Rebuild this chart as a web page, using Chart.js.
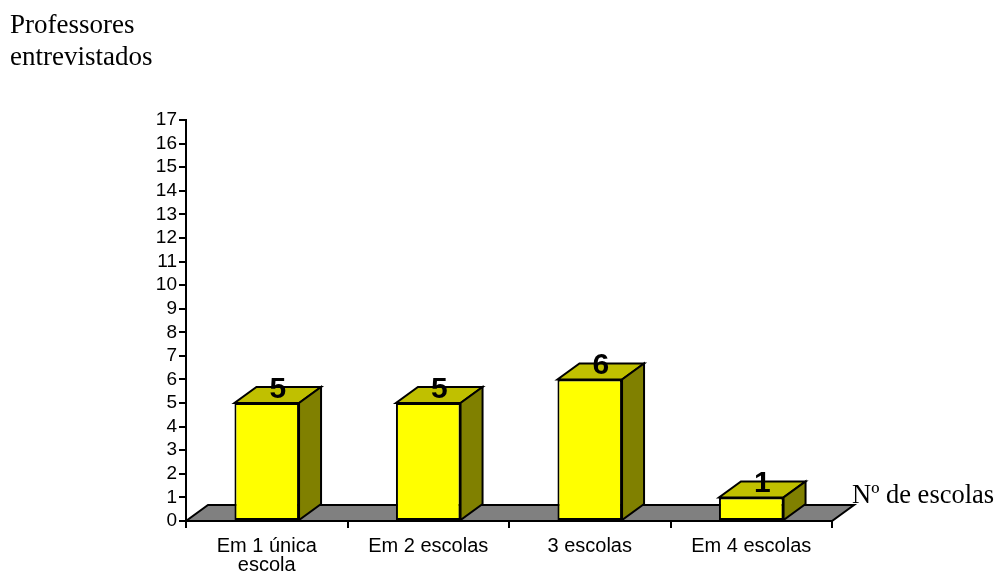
<!DOCTYPE html>
<html>
<head>
<meta charset="utf-8">
<script src="https://cdn.jsdelivr.net/npm/chart.js@4.4.1/dist/chart.umd.min.js"></script>
<style>
  html, body { margin: 0; padding: 0; background: #fff; }
  #wrap { position: relative; width: 998px; height: 581px; }
</style>
</head>
<body>
<div id="wrap"><canvas id="c" width="998" height="581"></canvas></div>
<script>
// Categories (number of schools each teacher works in)
const categories = [["Em 1 única", "escola"], "Em 2 escolas", "3 escolas", "Em 4 escolas"];
// Teachers interviewed per category
const professores = [5, 5, 6, 1];
// Value axis range
const yMin = 0;
const yMax = 17;
const yStep = 1;
// Axis titles
const yTitleLines = ["Professores", "entrevistados"];
const xTitle = "Nº de escolas";

// Depth of the pseudo-3D extrusion
const DX = 22, DY = 16;

function poly(ctx, pts, fill) {
  ctx.beginPath();
  ctx.moveTo(pts[0][0], pts[0][1]);
  for (let i = 1; i < pts.length; i++) ctx.lineTo(pts[i][0], pts[i][1]);
  ctx.closePath();
  ctx.fillStyle = fill;
  ctx.fill();
  ctx.lineWidth = 2;
  ctx.strokeStyle = '#000';
  ctx.lineJoin = 'miter';
  ctx.stroke();
}

const box3d = {
  id: 'box3d',
  beforeDatasetsDraw(chart) {
    const { ctx, chartArea: a } = chart;
    ctx.save();
    // grey floor under the bars
    poly(ctx, [[a.left, a.bottom], [a.right, a.bottom], [a.right + DX, a.bottom - DY], [a.left + DX, a.bottom - DY]], '#808080');
    ctx.restore();
  },
  afterDatasetsDraw(chart) {
    const { ctx } = chart;
    const meta = chart.getDatasetMeta(0);
    const data = chart.data.datasets[0].data;
    ctx.save();
    meta.data.forEach((bar, i) => {
      const { x, y, base, width } = bar.getProps(['x', 'y', 'base', 'width'], true);
      const l = x - width / 2, r = x + width / 2;
      // top face
      poly(ctx, [[l, y], [r, y], [r + DX, y - DY], [l + DX, y - DY]], '#C0C000');
      // right side face
      poly(ctx, [[r, y], [r, base], [r + DX, base - DY], [r + DX, y - DY]], '#808000');
      // value label on top
      ctx.fillStyle = '#000';
      ctx.font = 'bold 30px "Liberation Sans", Arial, sans-serif';
      ctx.textAlign = 'center';
      ctx.textBaseline = 'alphabetic';
      ctx.fillText(String(data[i]), x + DX / 2, y - 5);
    });
    ctx.restore();
  },
  afterDraw(chart) {
    const { ctx, chartArea: a } = chart;
    ctx.save();
    ctx.fillStyle = '#000';
    ctx.textAlign = 'left';
    ctx.textBaseline = 'alphabetic';
    ctx.font = '27px "Liberation Serif", "Times New Roman", serif';
    yTitleLines.forEach((t, i) => ctx.fillText(t, 10, 33 + i * 32));
    ctx.font = '26.5px "Liberation Serif", "Times New Roman", serif';
    ctx.fillText(xTitle, a.right + DX - 2, a.bottom - 18);
    ctx.restore();
  }
};

new Chart(document.getElementById('c'), {
  type: 'bar',
  data: {
    labels: categories,
    datasets: [{
      data: professores,
      backgroundColor: '#FFFF00',
      borderColor: '#000',
      borderWidth: 2,
      borderSkipped: false,
      barPercentage: 0.4,
      categoryPercentage: 1.0
    }]
  },
  options: {
    responsive: false,
    animation: false,
    events: [],
    layout: { padding: { left: 0, top: 120, right: 166, bottom: 0 } },
    plugins: { legend: { display: false }, tooltip: { enabled: false } },
    scales: {
      x: {
        offset: true,
        grid: { display: true, drawOnChartArea: false, drawTicks: true, tickLength: 7, color: '#000', lineWidth: 2, offset: true },
        border: { display: true, color: '#000', width: 2 },
        ticks: {
          color: '#000',
          font: { family: '"Liberation Sans", Arial, sans-serif', size: 20, lineHeight: 0.95 },
          maxRotation: 0, minRotation: 0, autoSkip: false, padding: 9
        },
        afterFit(scale) { scale.height = 60; }
      },
      y: {
        min: yMin, max: yMax,
        grid: { display: true, drawOnChartArea: false, drawTicks: true, tickLength: 7, color: '#000', lineWidth: 2 },
        border: { display: true, color: '#000', width: 2 },
        ticks: {
          stepSize: yStep, autoSkip: false, color: '#000', padding: 2,
          font: { family: '"Liberation Sans", Arial, sans-serif', size: 19 }
        },
        afterFit(scale) { scale.width = 186; }
      }
    }
  },
  plugins: [box3d]
});
</script>
</body>
</html>
